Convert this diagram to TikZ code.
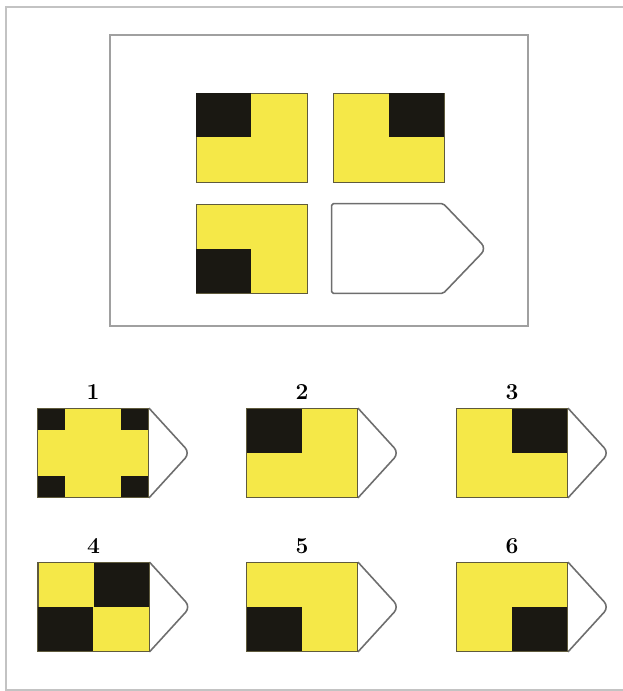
\documentclass[tikz,border=0pt]{standalone}
\usepackage{tikz}
\usetikzlibrary{positioning}
\definecolor{flagyellow}{RGB}{245,232,72}
\definecolor{flagblack}{RGB}{26,24,18}
\definecolor{flagedge}{RGB}{95,90,60}
\definecolor{tipgray}{RGB}{110,110,110}
\definecolor{framegray}{RGB}{160,160,160}
\definecolor{outergray}{RGB}{195,195,195}
\tikzset{
tile/.style={rectangle, draw=flagedge, line width=0.5pt, fill=flagyellow, minimum width=2.22cm, minimum height=1.78cm, inner sep=0},
blank_tile/.style={rectangle, minimum width=2.22cm, minimum height=1.78cm, inner sep=0},
quarter/.style={rectangle, fill=flagblack, minimum width=1.11cm, minimum height=0.89cm, inner sep=0},
corner/.style={rectangle, fill=flagblack, minimum width=0.56cm, minimum height=0.44cm, inner sep=0},
tip/.style={draw=tipgray, line width=0.9pt, rounded corners=1pt, fill=white},
number/.style={font=\fontsize{13}{15}\selectfont\bfseries, inner sep=1pt},
frame/.style={draw=framegray, line width=0.8pt}
}

\begin{document}
\begin{tikzpicture}[x=0.02cm, y=-0.02cm]
    \useasboundingbox (0,0) rectangle (623,691);
    \draw[draw=outergray, line width=0.6pt] (623,7) -- (6,7) -- (6,690) -- (623,690);
    \draw[frame] (110,35) rectangle (528,326);

    % question grid
    \node[tile] (q_1) at (251.5,137.5) {};
    \node[quarter, anchor=north west] at (q_1.north west) {};
    \node[tile] (q_2) at (388.5,137.5) {};
    \node[quarter, anchor=north east] at (q_2.north east) {};
    \node[tile] (q_3) at (251.5,248.5) {};
    \node[quarter, anchor=south west] at (q_3.south west) {};
    \node[blank_tile] (q_4) at (387.5,248.5) {};
    \draw[tip] (q_4.north east) [rounded corners=4pt] -- ([xshift=0.86cm]q_4.east)
        [rounded corners=1pt] -- (q_4.south east)
        -- (q_4.south west) -- (q_4.north west) -- cycle;

    % answer options
    \node[tile] (o_1) at (93,453) {};
    \node[corner, anchor=north west] at (o_1.north west) {};
    \node[corner, anchor=north east] at (o_1.north east) {};
    \node[corner, anchor=south west] at (o_1.south west) {};
    \node[corner, anchor=south east] at (o_1.south east) {};
    \node[tile] (o_2) at (302,453) {};
    \node[quarter, anchor=north west] at (o_2.north west) {};
    \node[tile] (o_3) at (512,453) {};
    \node[quarter, anchor=north east] at (o_3.north east) {};
    \node[tile] (o_4) at (93.5,607) {};
    \node[quarter, anchor=north east] at (o_4.north east) {};
    \node[quarter, anchor=south west] at (o_4.south west) {};
    \node[tile] (o_5) at (302,607) {};
    \node[quarter, anchor=south west] at (o_5.south west) {};
    \node[tile] (o_6) at (512,607) {};
    \node[quarter, anchor=south east] at (o_6.south east) {};

    \foreach \o in {1,...,6} {
        \draw[tip, rounded corners=4pt] (o_\o.north east) -- ([xshift=0.82cm]o_\o.east) -- (o_\o.south east);
        \draw[draw=flagedge, line width=0.5pt] (o_\o.north west) rectangle (o_\o.south east);
        \node[number, above=0.13cm of o_\o] (n_\o) {\o};
    }
\end{tikzpicture}
\end{document}
